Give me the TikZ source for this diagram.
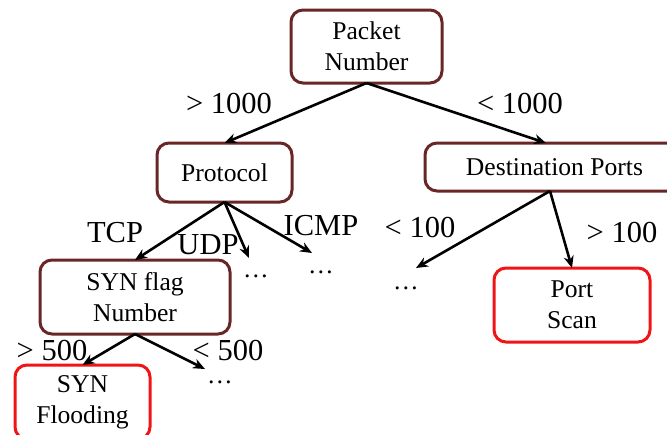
\documentclass[tikz,border=0pt]{standalone}
\usepackage{fontspec}
\setmainfont{Liberation Serif}
\usetikzlibrary{arrows.meta}
\definecolor{boxbrown}{RGB}{105,38,38}
\definecolor{boxred}{RGB}{240,20,20}
\begin{document}
\begin{tikzpicture}[x=1pt,y=-1pt,
  font=\fontsize{25.6}{30.7}\selectfont,
  every node/.style={inner sep=0pt,outer sep=0pt},
  decbox/.style={draw=boxbrown,line width=3pt,rounded corners=12pt,align=center},
  resbox/.style={draw=boxred,line width=3pt,rounded corners=12pt,align=center},
  lbl/.style={anchor=base,font=\fontsize{30.5}{36}\selectfont},
  dts/.style={anchor=base},
  arr/.style={-{Stealth[length=12pt,width=10pt]},line width=2.6pt,black}]
\clip (0,0) rectangle (667,434);
\useasboundingbox (0,0) rectangle (667,434);
% boxes
\node[decbox,minimum width=151pt,minimum height=73pt] (pk) at (366.5,46.5) {Packet\\Number};
\node[decbox,minimum width=135pt,minimum height=59pt] (proto) at (224.5,172.5) {Protocol};
\node[decbox,minimum width=259pt,minimum height=48pt] (dest) at (554.5,167) {Destination Ports};
\node[decbox,minimum width=190pt,minimum height=74pt] (syn) at (135,297) {SYN flag\\Number};
\node[resbox,minimum width=135pt,minimum height=74pt] (flood) at (82.5,402) {SYN\\Flooding};
\node[resbox,minimum width=156pt,minimum height=74pt] (port) at (572,305) {Port\\Scan};
% dots
\node[dts] (d1) at (256,277) {…};
\node[dts] (d2) at (321,273) {…};
\node[dts] (d3) at (220,383) {…};
\node[dts] (d4) at (406,289) {…};
% tip coordinates
\coordinate (pkdest) at (546,143);
\coordinate (dsrc) at (550,191);
\coordinate (t1) at (249,258);
\coordinate (t2) at (312,253);
\coordinate (t3) at (205,369);
\coordinate (t4) at (416,268);
% labels
\node[lbl] (l1) at (229,113) {> 1000};
\node[lbl] (l2) at (520,113) {< 1000};
\node[lbl] (l3) at (115,242) {TCP};
\node[lbl] (l4) at (208,254) {UDP};
\node[lbl] (l5) at (321,235) {ICMP};
\node[lbl] (l6) at (420,237) {< 100};
\node[lbl] (l7) at (622,242) {> 100};
\node[lbl] (l8) at (52,360) {> 500};
\node[lbl] (l9) at (228,360) {< 500};
% arrows
\draw[arr] (pk.south) -- (proto.north);
\draw[arr] (pk.south) -- (pkdest);
\draw[arr] (proto.south) -- (syn.north);
\draw[arr] (proto.south) -- (t1);
\draw[arr] (proto.south) -- (t2);
\draw[arr] (syn.south) -- (flood.north);
\draw[arr] (syn.south) -- (t3);
\draw[arr] (dsrc) -- (t4);
\draw[arr] (dsrc) -- (port.north);
\end{tikzpicture}
\end{document}
